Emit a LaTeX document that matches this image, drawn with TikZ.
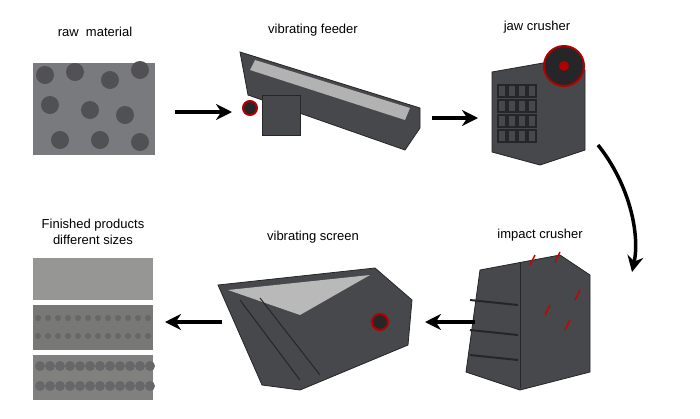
\documentclass[tikz,border=0pt]{standalone}
\usepackage{fontspec}
\setmainfont{Liberation Sans}
\usetikzlibrary{positioning,arrows.meta}
\definecolor{colorsteel} {RGB}{70 ,72 ,75 }
\definecolor{colordark}  {RGB}{38 ,38 ,40 }
\definecolor{colorrock}  {RGB}{120,122,125}
\definecolor{colorgravel}{RGB}{150,150,148}

\begin{document}
\begin{tikzpicture}[
    x=1pt, y=-1pt,
    font={\fontsize{13}{16}\selectfont},
    txt/.style={text=black,align=center},
    flow/.style={line width=3.5pt,-{Stealth[length=16pt,width=16pt]}},
    photo/.style={fill=colorrock,draw=none},
    body/.style={fill=colorsteel,draw=colordark,line width=0.8pt},
    wheel/.style={fill=colordark,draw=red!70!black,line width=2pt},
]
    \useasboundingbox (0,0) rectangle (700,418);

    % raw material
    \node[txt] (lraw) at (95,32) {raw\ \ material};
    \fill[photo] (33,63) rectangle (155,155);
    \foreach \i/\j in {45/75,75/72,110/80,140/70,50/105,90/110,125/115,60/140,100/140,140/142}
        \fill[colordark!80] (\i,\j) circle (9);
    \node[inner sep=0] (raw) at (94,109) {};
    \coordinate (a1s) at (175,112);
    \coordinate (a1e) at (232,112);
    \draw[flow] (a1s) -- (a1e);

    % vibrating feeder
    \node[txt] (lfeed) at (313,30) {vibrating feeder};
    \draw[body] (240,52) -- (420,108) -- (420,128) -- (405,150) -- (248,95) -- cycle;
    \fill[gray!60] (255,60) -- (410,108) -- (405,120) -- (250,70) -- cycle;
    \draw[body] (262,95) rectangle (300,135);
    \draw[wheel] (250,108) circle (7);
    \node[inner sep=0] (feed) at (330,100) {};
    \coordinate (a2s) at (432,118);
    \coordinate (a2e) at (478,118);
    \draw[flow] (a2s) -- (a2e);

    % jaw crusher
    \node[txt] (ljaw) at (537,27) {jaw crusher};
    \draw[body] (492,72) -- (560,60) -- (585,70) -- (585,150) -- (540,165) -- (492,152) -- cycle;
    \foreach \r in {0,...,3}
      \foreach \c in {0,...,3}
        \draw[colordark,line width=1.5pt] (498+\c*10,85+\r*15) rectangle ++(8,12);
    \draw[wheel] (564,66) circle (20);
    \fill[red!70!black] (564,66) circle (5);
    \node[inner sep=0] (jaw) at (540,110) {};
    \coordinate (a3s) at (598,145);
    \coordinate (a3e) at (632,272);
    \draw[flow] (a3s) .. controls (630,185) and (640,235) .. (a3e);

    % impact crusher
    \node[txt] (limp) at (540,235) {impact crusher};
    \draw[body] (480,270) -- (560,255) -- (590,275) -- (590,372) -- (520,390) -- (466,372) -- cycle;
    \draw[colordark,line width=1pt] (520,262) -- (520,388);
    \foreach \y in {300,330,355}
        \draw[colordark,line width=2pt] (470,\y) -- (518,\y+5);
    \foreach \x/\y in {530/265,555/262,545/315,565/330,575/300}
        \draw[red!80!black,line width=1.5pt] (\x,\y) -- ++(5,-10);
    \node[inner sep=0] (imp) at (528,322) {};
    \coordinate (a4s) at (475,322);
    \coordinate (a4e) at (425,322);
    \draw[flow] (a4s) -- (a4e);

    % vibrating screen
    \node[txt] (lscr) at (313,237) {vibrating screen};
    \draw[body] (218,285) -- (375,268) -- (412,300) -- (408,345) -- (300,390) -- (262,385) -- cycle;
    \fill[gray!55] (228,290) -- (370,275) -- (300,315) -- cycle;
    \draw[colordark,line width=1pt] (240,300) -- (300,380) (260,298) -- (320,375);
    \draw[wheel] (380,322) circle (8);
    \node[inner sep=0] (scr) at (315,330) {};
    \coordinate (a5s) at (222,322);
    \coordinate (a5e) at (165,322);
    \draw[flow] (a5s) -- (a5e);

    % finished products
    \node[txt] (lfin) at (93,232) {Finished products\\different sizes};
    \fill[colorgravel] (33,258) rectangle (153,300);
    \fill[colorgravel!80!black] (33,305) rectangle (153,350);
    \fill[colorgravel!85!black] (33,355) rectangle (153,400);
    \foreach \i in {0,...,11}
      \foreach \j in {0,1}
        \fill[colordark!70] (38+\i*10,318+\j*18) circle (3)
                            (40+\i*10,366+\j*20) circle (5);
    \node[inner sep=0] (fin) at (93,329) {};
\end{tikzpicture}
\end{document}
